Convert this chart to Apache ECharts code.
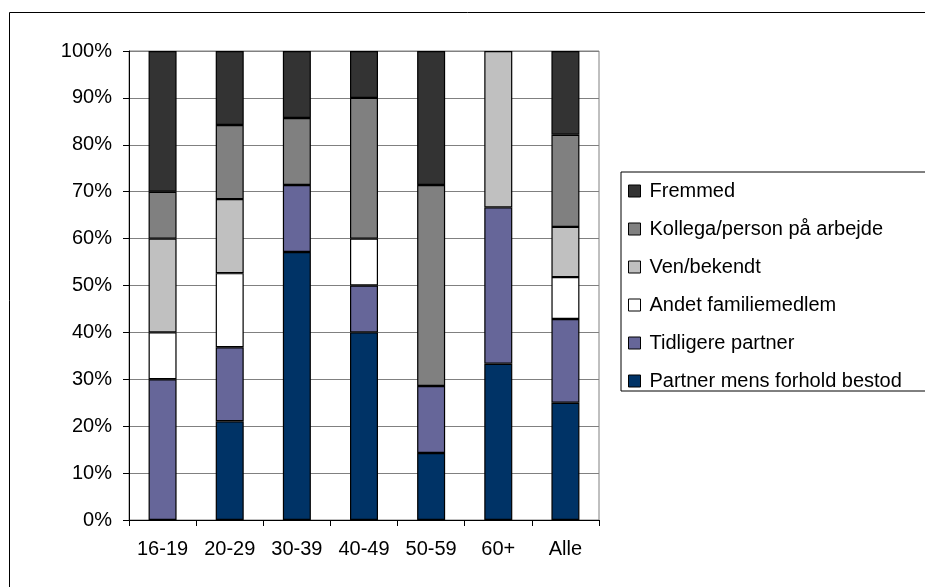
<!DOCTYPE html>
<html>
<head>
<meta charset="utf-8">
<script src="https://cdn.jsdelivr.net/npm/echarts@6/dist/echarts.min.js"></script>
<style>
html,body{margin:0;padding:0;background:#fff;}
#chart{width:925px;height:587px;}
</style>
</head>
<body>
<div id="chart"></div>
<script>
var categories = ['16-19', '20-29', '30-39', '40-49', '50-59', '60+', 'Alle'];
var yTickLabels = ['0%', '10%', '20%', '30%', '40%', '50%', '60%', '70%', '80%', '90%', '100%'];

var partnerMens   = [0,    21.05, 57.14, 40, 14.29, 33.33, 25.00];
var tidligere     = [30,   15.79, 14.29, 10, 14.29, 33.33, 17.86];
var andetFamilie  = [10,   15.79, 0,     10, 0,     0,     8.93];
var venBekendt    = [20,   15.79, 0,     0,  0,     33.34, 10.71];
var kollega       = [10,   15.79, 14.29, 30, 42.86, 0,     19.64];
var fremmed       = [30,   15.79, 14.29, 10, 28.57, 0,     17.86];

var seriesNames = ['Partner mens forhold bestod', 'Tidligere partner', 'Andet familiemedlem', 'Ven/bekendt', 'Kollega/person på arbejde', 'Fremmed'];
var seriesValues = [partnerMens, tidligere, andetFamilie, venBekendt, kollega, fremmed];
var seriesColors = ['#003366', '#666699', '#FFFFFF', '#C0C0C0', '#808080', '#333333'];

var FONT = '"Liberation Sans", Arial, sans-serif';

var series = seriesNames.map(function (name, i) {
  return {
    name: name,
    type: 'bar',
    stack: 'total',
    barWidth: 28,
    itemStyle: { color: seriesColors[i], borderColor: '#000', borderWidth: 1.2 },
    emphasis: { disabled: true },
    data: seriesValues[i].map(function (v) { return v === 0 ? '-' : v; })
  };
});

var chart = echarts.init(document.getElementById('chart'), null, { renderer: 'canvas' });
chart.setOption({
  animation: false,
  backgroundColor: '#fff',
  textStyle: { fontFamily: FONT },
  grid: {
    left: 129, right: 326, top: 51, bottom: 67,
    show: true, borderColor: '#808080', borderWidth: 1, backgroundColor: 'transparent'
  },
  graphic: [{
    type: 'rect', silent: true, z: -1,
    shape: { x: 9.5, y: 12.5, width: 1000, height: 1000 },
    style: { fill: null, stroke: '#000', lineWidth: 1 }
  }],
  legend: {
    orient: 'vertical',
    left: 621, top: 172,
    padding: [9, 80, 0, 7],
    borderColor: '#000', borderWidth: 1,
    itemWidth: 12, itemHeight: 12, itemGap: 18,
    icon: 'rect',
    selectedMode: false,
    data: seriesNames.slice().reverse(),
    itemStyle: { borderColor: '#000', borderWidth: 1 },
    textStyle: { fontFamily: FONT, fontSize: 20, color: '#000', lineHeight: 20, padding: [0, 0, 0, 4] }
  },
  xAxis: {
    type: 'category',
    data: categories,
    axisLine: { show: true, lineStyle: { color: '#000', width: 1 } },
    axisTick: { show: true, length: 6, lineStyle: { color: '#000' } },
    axisLabel: { fontFamily: FONT, fontSize: 20, color: '#000', margin: 19 },
    splitLine: { show: false }
  },
  yAxis: {
    type: 'value',
    min: 0, max: 100, interval: 10,
    axisLine: { show: true, lineStyle: { color: '#000', width: 1 } },
    axisTick: { show: true, length: 6, lineStyle: { color: '#000' } },
    axisLabel: {
      fontFamily: FONT, fontSize: 20, color: '#000', margin: 17,
      formatter: function (v) { return yTickLabels[Math.round(v / 10)]; }
    },
    splitLine: { show: true, lineStyle: { color: '#808080', width: 1 } }
  },
  series: series
});
</script>
</body>
</html>
